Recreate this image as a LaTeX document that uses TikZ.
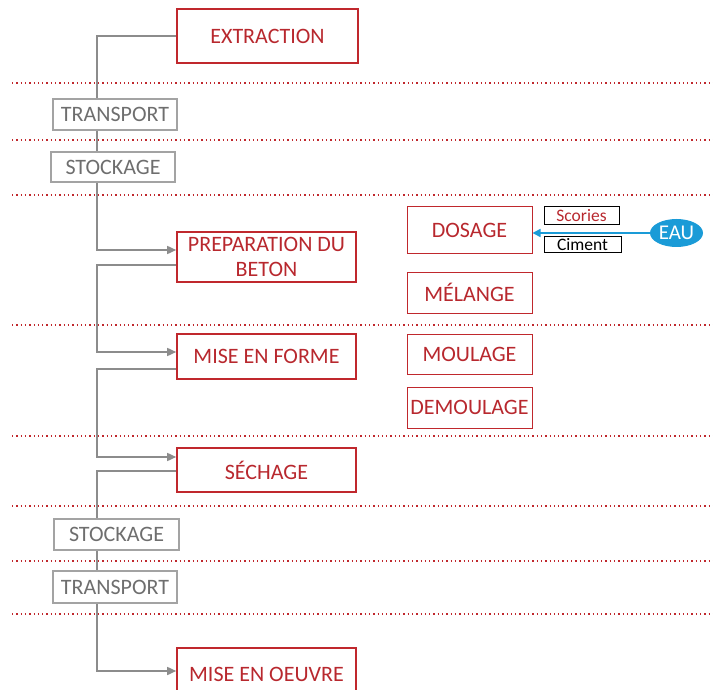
\documentclass[tikz,border=0pt]{standalone}
\usepackage{fontspec}
\setmainfont{Carlito}
\usetikzlibrary{arrows.meta,shapes.geometric}
\definecolor{myred}{HTML}{C0282D}
\definecolor{mytext}{HTML}{B8282E}
\definecolor{mygray}{HTML}{8C8C8C}
\definecolor{mygtext}{HTML}{6E6E6E}
\definecolor{myblue}{HTML}{1A9BD7}
\tikzset{
  mainbox/.style={draw=myred, line width=1.6pt, text=mytext, inner sep=0pt, font=\fontsize{22}{24}\selectfont, align=center},
  subbox/.style={draw=myred, line width=1pt, text=mytext, inner sep=0pt, font=\fontsize{22}{24}\selectfont, minimum width=125pt},
  graybox/.style={draw=mygray!80, line width=1.3pt, text=mygtext, inner sep=0pt, font=\fontsize{22}{24}\selectfont},
  tagbox/.style={draw=black, line width=1pt, inner sep=0pt, font=\fontsize{17.5}{18}\selectfont},
  flow/.style={draw=mygray, line width=1.6pt},
  flowarr/.style={flow, -{Triangle[length=9pt,width=8pt]}},
  sep/.style={draw=myred, line width=1.3pt, dash pattern=on 1.3pt off 3pt},
}
\begin{document}
\begin{tikzpicture}[x=1pt,y=-1pt]
\useasboundingbox (0,0) rectangle (713,690);
\clip (0,0) rectangle (713,690);
% separators
\foreach \yy in {83,140,195,325,436,506,561,614}
  \draw[sep] (12,\yy) -- (713,\yy);
% nodes
\node[mainbox, minimum width=181pt, minimum height=54pt] (extr) at (267.5,36) {EXTRACTION};
\node[graybox, minimum width=124pt, minimum height=31pt] (tr1) at (115,114.5) {TRANSPORT};
\node[graybox, minimum width=124pt, minimum height=30pt] (st1) at (113,167) {STOCKAGE};
\node[mainbox, minimum width=179pt, minimum height=50pt, font=\fontsize{22}{25.5}\selectfont] (prep) at (266.5,257) {PREPARATION DU\\BETON};
\node[mainbox, minimum width=179pt, minimum height=45pt] (mef) at (266.5,356.5) {MISE EN FORME};
\node[mainbox, minimum width=179pt, minimum height=44pt] (sech) at (266.5,470) {SÉCHAGE};
\node[graybox, minimum width=125pt, minimum height=31pt] (st2) at (116.5,534.5) {STOCKAGE};
\node[graybox, minimum width=124pt, minimum height=32pt] (tr2) at (115,587) {TRANSPORT};
\node[mainbox, minimum width=179pt, minimum height=52pt] (oeuv) at (266.5,674) {MISE EN OEUVRE};
\node[subbox, minimum height=47pt] (dos) at (469.5,230.5) {DOSAGE};
\node[subbox, minimum height=41pt] (mel) at (469.5,292.5) {MÉLANGE};
\node[subbox, minimum height=40pt] (moul) at (469.5,354) {MOULAGE};
\node[subbox, minimum height=41pt] (dem) at (469.5,407.5) {DEMOULAGE};
\node[tagbox, text=mytext, minimum width=75pt, minimum height=18pt] (sco) at (581.5,216) {Scories};
\node[tagbox, minimum width=77pt, minimum height=16pt] (cim) at (582.5,245) {Ciment};
\node[ellipse, fill=myblue, text=white, inner sep=0pt, minimum width=53pt, minimum height=28pt, font=\fontsize{21}{24}\selectfont] (eau) at (676.5,233) {EAU};
% spine
\coordinate (sp) at (97,0);
\draw[flow] (extr.west) -| (sp |- tr1.north);
\draw[flow] (sp |- tr1.south) -- (sp |- st1.north);
\draw[flowarr] (sp |- st1.south) |- ([yshift=7pt]prep.west);
\draw[flowarr] ([yshift=-8pt]prep.west) -| (sp |- mef.north) |- ([yshift=4.5pt]mef.west);
\draw[flowarr] ([yshift=-12.5pt]mef.west) -| (sp |- sech.north) |- ([yshift=13pt]sech.west);
\draw[flow] ([yshift=-1pt]sech.west) -| (sp |- st2.north);
\draw[flow] (sp |- st2.south) -- (sp |- tr2.north);
\draw[flowarr] (sp |- tr2.south) |- ([yshift=3pt]oeuv.west);
% water
\draw[draw=myblue, line width=1.6pt, -{Triangle[length=8pt,width=8pt]}] (eau.west) -- (eau.west -| dos.east);
\end{tikzpicture}
\end{document}
